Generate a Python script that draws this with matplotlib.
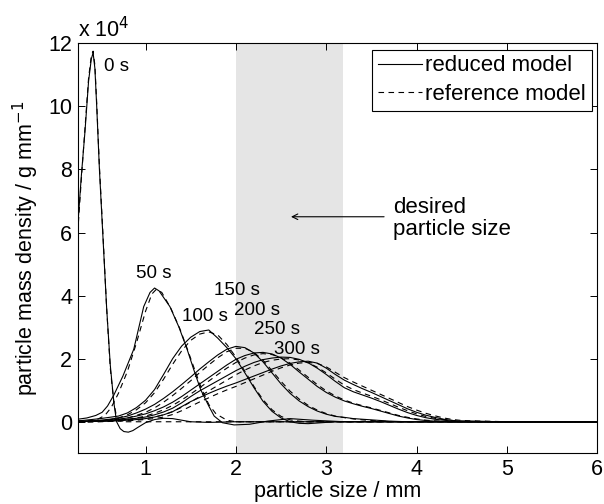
import numpy as np
import matplotlib
matplotlib.use('Agg')
import matplotlib.pyplot as plt
from matplotlib.lines import Line2D

plt.rcParams['font.family'] = ['Liberation Sans', 'DejaVu Sans']

# ---- data (y in units of 1e4 g/mm) ----
# 0 s curves
x0 = [0.25, 0.29, 0.33, 0.37, 0.40, 0.42, 0.44, 0.46, 0.49, 0.53, 0.57, 0.61, 0.65, 0.68,
      0.72, 0.76, 0.81, 0.86, 0.92, 1.0, 1.1, 1.2, 1.3, 1.4, 1.5, 1.7, 2.0, 6.0]
red0 = [6.2, 7.8, 9.2, 10.8, 11.5, 11.7, 11.2, 10.0, 8.0, 5.8, 3.6, 1.8, 0.6, 0.0,
        -0.22, -0.31, -0.33, -0.28, -0.17, -0.03, 0.07, 0.11, 0.10, 0.05, 0.0, -0.02, 0.0, 0.0]
ref0 = [6.0, 7.7, 9.3, 10.9, 11.6, 11.75, 11.3, 10.1, 8.1, 5.9, 3.6, 1.7, 0.6, 0.15,
        0.03, 0.0, 0.0, 0.0, 0.0, 0.0, 0.0, 0.0, 0.0, 0.0, 0.0, 0.0, 0.0, 0.0]

# 50 s curves
x50r = [0.25, 0.35, 0.45, 0.52, 0.58, 0.65, 0.75, 0.87, 0.98, 1.05, 1.10, 1.15, 1.27, 1.37,
        1.46, 1.54, 1.61, 1.70, 1.76, 1.85, 1.98, 2.15, 2.35, 2.6, 2.85, 3.2, 6.0]
red50 = [0.08, 0.12, 0.2, 0.3, 0.5, 0.85, 1.45, 2.3, 3.65, 4.1, 4.24, 4.15, 3.65, 3.0,
         2.3, 1.6, 1.02, 0.5, 0.18, -0.03, -0.1, -0.08, 0.02, 0.1, 0.05, 0.0, 0.0]
x50f = [0.25, 0.45, 0.55, 0.62, 0.7, 0.8, 0.9, 1.0, 1.07, 1.12, 1.18, 1.28, 1.38, 1.47,
        1.55, 1.62, 1.7, 1.78, 1.9, 2.0, 6.0]
ref50 = [0.0, 0.05, 0.2, 0.45, 0.9, 1.6, 2.5, 3.5, 4.05, 4.2, 4.1, 3.6, 2.95, 2.25,
         1.6, 1.05, 0.55, 0.25, 0.05, 0.0, 0.0]

# common grid for 100..300 s
xg = [0.25, 0.3, 0.4, 0.5, 0.6, 0.7, 0.8, 0.9, 1.0, 1.1,
      1.2, 1.3, 1.4, 1.5, 1.6, 1.7, 1.8, 1.9, 2.0, 2.1,
      2.2, 2.3, 2.4, 2.5, 2.6, 2.7, 2.8, 2.9, 3.0, 3.1,
      3.2, 3.3, 3.4, 3.5, 3.6, 3.7, 3.8, 3.9, 4.0, 4.1,
      4.2, 4.3, 4.4, 4.5, 5.0, 6.0]

red100 = [0.03, 0.04, 0.07, 0.10, 0.14, 0.18, 0.28, 0.45, 0.68, 1.02,
          1.50, 2.00, 2.40, 2.68, 2.86, 2.91, 2.65, 2.35, 2.00, 1.55,
          1.08, 0.65, 0.33, 0.12, 0.00, -0.05, -0.06, -0.04, -0.02, 0.00,
          0, 0, 0, 0, 0, 0, 0, 0, 0, 0,
          0, 0, 0, 0, 0, 0]
ref100 = [0, 0, 0.01, 0.03, 0.06, 0.12, 0.22, 0.38, 0.60, 0.92,
          1.35, 1.82, 2.25, 2.58, 2.78, 2.85, 2.75, 2.45, 2.05, 1.60,
          1.12, 0.70, 0.38, 0.17, 0.06, 0.02, 0, 0, 0, 0,
          0, 0, 0, 0, 0, 0, 0, 0, 0, 0,
          0, 0, 0, 0, 0, 0]

red150 = [0.02, 0.02, 0.03, 0.05, 0.08, 0.12, 0.18, 0.28, 0.40, 0.55,
          0.74, 0.95, 1.18, 1.42, 1.67, 1.90, 2.12, 2.30, 2.39, 2.35,
          2.18, 1.90, 1.55, 1.20, 0.90, 0.66, 0.48, 0.34, 0.24, 0.17,
          0.14, 0.10, 0.08, 0.06, 0.04, 0.02, 0.01, 0, 0, 0,
          0, 0, 0, 0, 0, 0]
ref150 = [0, 0, 0.01, 0.02, 0.04, 0.07, 0.12, 0.20, 0.30, 0.44,
          0.62, 0.83, 1.06, 1.30, 1.56, 1.80, 2.03, 2.22, 2.33, 2.33,
          2.20, 1.95, 1.62, 1.28, 0.97, 0.72, 0.52, 0.37, 0.26, 0.18,
          0.13, 0.09, 0.06, 0.04, 0.02, 0.01, 0, 0, 0, 0,
          0, 0, 0, 0, 0, 0]

red200 = [0.01, 0.01, 0.02, 0.03, 0.05, 0.08, 0.12, 0.18, 0.25, 0.35,
          0.47, 0.62, 0.80, 1.00, 1.20, 1.40, 1.60, 1.80, 1.98, 2.10,
          2.18, 2.20, 2.15, 2.02, 1.82, 1.58, 1.35, 1.12, 0.93, 0.78,
          0.66, 0.57, 0.49, 0.42, 0.34, 0.26, 0.18, 0.12, 0.07, 0.04,
          0.02, 0.01, 0, 0, 0, 0]
ref200 = [0, 0, 0, 0.01, 0.02, 0.04, 0.07, 0.12, 0.18, 0.27,
          0.38, 0.52, 0.69, 0.88, 1.08, 1.29, 1.50, 1.70, 1.88, 2.02,
          2.12, 2.16, 2.13, 2.03, 1.86, 1.64, 1.41, 1.18, 0.98, 0.82,
          0.69, 0.59, 0.51, 0.44, 0.36, 0.28, 0.20, 0.14, 0.09, 0.05,
          0.03, 0.01, 0, 0, 0, 0]

red250 = [0.01, 0.01, 0.01, 0.02, 0.03, 0.05, 0.08, 0.11, 0.15, 0.22,
          0.31, 0.43, 0.60, 0.80, 0.98, 1.14, 1.30, 1.46, 1.62, 1.76,
          1.88, 1.97, 2.02, 2.05, 2.04, 1.98, 1.87, 1.70, 1.50, 1.28,
          1.08, 0.95, 0.85, 0.75, 0.64, 0.52, 0.40, 0.29, 0.20, 0.13,
          0.08, 0.05, 0.02, 0.01, 0, 0]
ref250 = [0, 0, 0, 0.01, 0.02, 0.03, 0.05, 0.07, 0.10, 0.15,
          0.22, 0.32, 0.46, 0.63, 0.80, 0.98, 1.15, 1.32, 1.49, 1.64,
          1.77, 1.88, 1.95, 1.99, 2.00, 1.96, 1.87, 1.73, 1.55, 1.35,
          1.16, 1.02, 0.91, 0.81, 0.70, 0.58, 0.46, 0.35, 0.25, 0.17,
          0.11, 0.07, 0.04, 0.02, 0, 0]

red300 = [0.01, 0.01, 0.01, 0.01, 0.02, 0.03, 0.05, 0.07, 0.10, 0.15,
          0.22, 0.32, 0.48, 0.64, 0.77, 0.90, 1.02, 1.13, 1.23, 1.34,
          1.45, 1.56, 1.67, 1.77, 1.85, 1.90, 1.92, 1.86, 1.70, 1.50,
          1.32, 1.18, 1.05, 0.93, 0.80, 0.67, 0.54, 0.41, 0.30, 0.21,
          0.14, 0.08, 0.04, 0.02, 0, 0]
ref300 = [0, 0, 0, 0, 0.01, 0.02, 0.03, 0.05, 0.07, 0.10,
          0.15, 0.23, 0.35, 0.49, 0.63, 0.76, 0.89, 1.01, 1.12, 1.24,
          1.36, 1.48, 1.60, 1.71, 1.80, 1.86, 1.88, 1.85, 1.74, 1.57,
          1.40, 1.26, 1.13, 1.00, 0.87, 0.74, 0.61, 0.48, 0.37, 0.27,
          0.19, 0.12, 0.07, 0.04, 0, 0]

time_labels = ['0 s', '50 s', '100 s', '150 s', '200 s', '250 s', '300 s']
label_x = [0.54, 0.90, 1.40, 1.76, 1.98, 2.20, 2.42]
label_y = [11.27, 4.69, 3.34, 4.16, 3.53, 2.92, 2.29]

desired_lo, desired_hi = 2.0, 3.18

# ---- figure ----
fig = plt.figure(figsize=(6.04, 5.04), dpi=100)
ax = fig.add_axes([0.1287, 0.1006, 0.8603, 0.8135])

ax.axvspan(desired_lo, desired_hi, color='#e5e5e5', lw=0, zorder=0)

lw = 0.8
dash = (0, (5, 4))
ax.plot(x0, red0, color='k', lw=lw)
ax.plot(x0, ref0, color='k', lw=lw, ls=dash)
ax.plot(x50r, red50, color='k', lw=lw)
ax.plot(x50f, ref50, color='k', lw=lw, ls=dash)
for r, f in [(red100, ref100), (red150, ref150), (red200, ref200),
             (red250, ref250), (red300, ref300)]:
    ax.plot(xg, r, color='k', lw=lw)
    ax.plot(xg, f, color='k', lw=lw, ls=dash)

for t, lx, ly in zip(time_labels, label_x, label_y):
    ax.text(lx, ly, t, fontsize=13.5, ha='left', va='center')

ax.annotate('', xy=(2.61, 6.5), xytext=(3.64, 6.5),
            arrowprops=dict(arrowstyle='->', color='k', lw=0.8,
                            shrinkA=0, shrinkB=0))
ax.text(3.74, 6.45, 'desired\nparticle size', fontsize=16, ha='left', va='center',
        linespacing=1.05)

ax.set_xlim(0.25, 6)
ax.set_ylim(-1, 12)
ax.set_xticks([1, 2, 3, 4, 5, 6])
ax.set_yticks([0, 2, 4, 6, 8, 10, 12])
ax.tick_params(direction='in', top=True, right=True, labelsize=15.5, length=5, width=0.7, pad=4)
for s in ax.spines.values():
    s.set_linewidth(0.8)

ax.text(0.0, 1.003, 'x 10$^{4}$', transform=ax.transAxes, fontsize=15.5, ha='left', va='bottom')

ax.set_xlabel('particle size / mm', fontsize=15.5, labelpad=1)
ax.set_ylabel('particle mass density / g mm$^{-1}$', fontsize=15.5)
ax.yaxis.set_label_coords(-0.07, 0.5)

handles = [Line2D([], [], color='k', lw=lw),
           Line2D([], [], color='k', lw=lw, ls=dash)]
leg = ax.legend(handles, ['reduced model', 'reference model'], loc='upper right',
                bbox_to_anchor=(0.989, 0.984), borderaxespad=0, fontsize=16,
                fancybox=False, framealpha=1, edgecolor='k', handlelength=2.0,
                handletextpad=0.15, borderpad=0.25, labelspacing=0.35)
leg.get_frame().set_linewidth(0.8)

fig.savefig('out.png', dpi=100)
